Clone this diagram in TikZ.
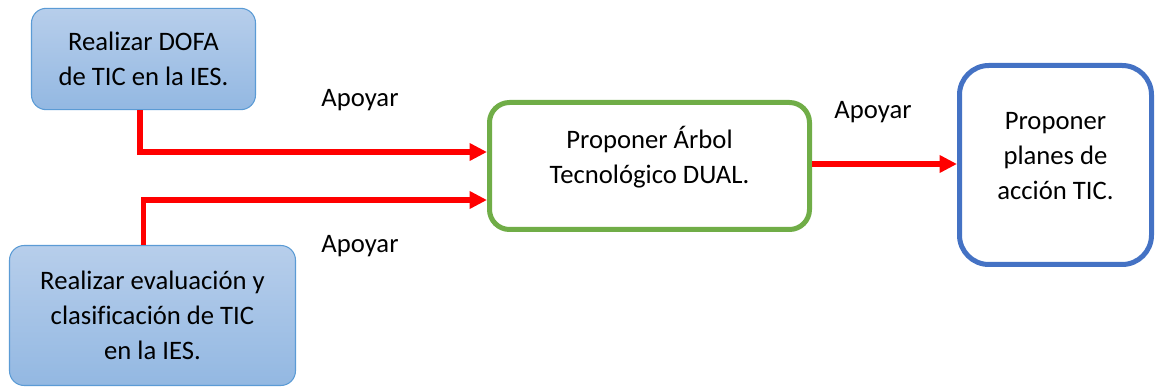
\documentclass[tikz,border=0pt]{standalone}
\usepackage{fontspec}
\setmainfont{Carlito}[Ligatures=NoCommon]
\usepackage{xcolor}
\usetikzlibrary{arrows.meta, positioning}
\definecolor{taskline}{RGB}{91,155,213}
\definecolor{tasktop}{RGB}{183,206,235}
\definecolor{taskbot}{RGB}{147,184,226}
\definecolor{dualgreen}{RGB}{112,173,71}
\definecolor{planblue}{RGB}{68,114,196}
\tikzset{
  task/.style={draw=taskline, line width=0.8pt, rounded corners=11pt, top color=tasktop, bottom color=taskbot, align=center},
  arbolbox/.style={draw=dualgreen, line width=3.75pt, rounded corners=15pt, fill=white},
  planbox/.style={draw=planblue, line width=3.75pt, rounded corners=22pt, fill=white},
  boxtext/.style={align=center},
  support/.style={-{Triangle[length=13pt, width=12.5pt]}, line width=4pt, red},
  every node/.style={font=\fontsize{20}{26.25}\selectfont}
}
\begin{document}
\begin{tikzpicture}[x=0.75pt, y=-0.75pt]
    \useasboundingbox (0,0) rectangle (1157,388);
    \node[task, minimum width=168pt, minimum height=76pt] (dofa) at (143.5,59) {Realizar DOFA\\de TIC en la IES.};
    \node[task, minimum width=214.5pt, minimum height=105pt] (evaluacion) at (152.5,315.5) {Realizar evaluación y\\clasificación de TIC\\en la IES.};
    \node[arbolbox, minimum width=240pt, minimum height=95.25pt,
      label={[boxtext, yshift=6.4pt]center:{Proponer Árbol\\Tecnológico DUAL.}}] (arbol) at (649.5,166) {};
    \node[planbox, minimum width=144pt, minimum height=149.25pt,
      label={[boxtext, yshift=6.75pt]center:{Proponer\\planes de\\acción TIC.}}] (planes) at (1055.5,165) {};
    \draw[support] ([xshift=-2.6pt]dofa.south) |- ([yshift=10.5pt]arbol.west);
    \draw[support] ([xshift=-7pt]evaluacion.north) |- ([yshift=-25.5pt]arbol.west);
    \draw[support] ([yshift=1.5pt]arbol.east) -- ([yshift=1.5pt]arbol.east -| planes.west);
    \node (apoyar1) at (360,100) {Apoyar};
    \node (apoyar2) at (360,246) {Apoyar};
    \node (apoyar3) at (873,112) {Apoyar};
\end{tikzpicture}
\end{document}
